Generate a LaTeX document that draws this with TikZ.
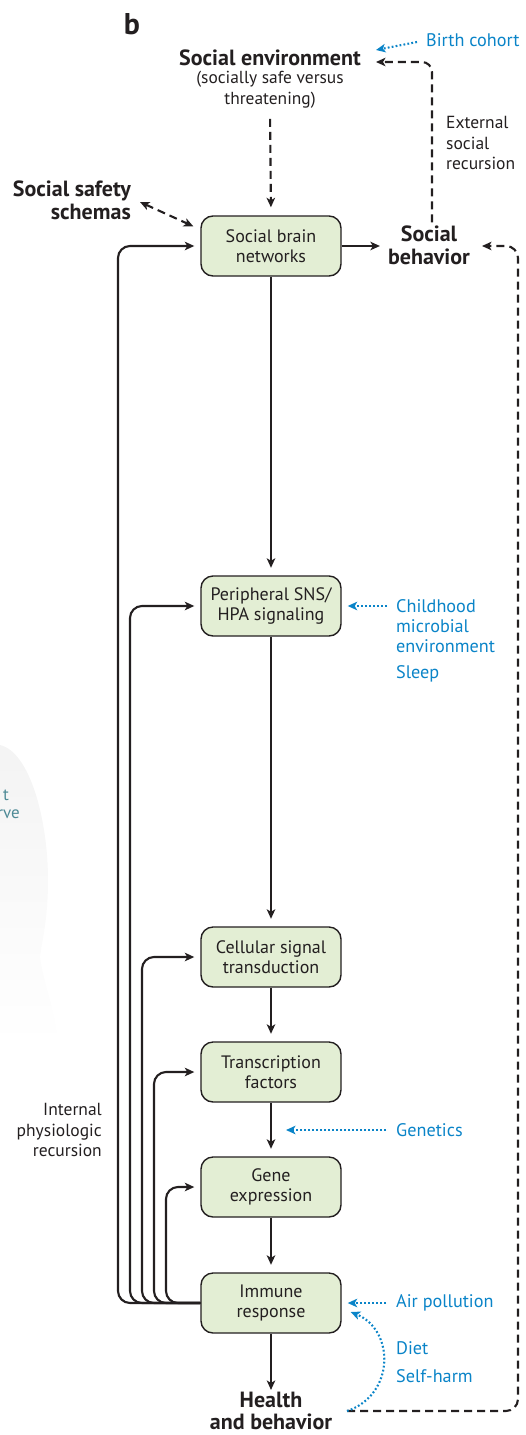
\documentclass[tikz,border=0pt]{standalone}
\usepackage{fontspec}
\setmainfont{PT Sans}
\usetikzlibrary{arrows.meta,calc}
\definecolor{boxfill}{HTML}{E3EED4}
\definecolor{ink}{HTML}{231F20}
\definecolor{blu}{HTML}{0A84C8}
\definecolor{tealtxt}{HTML}{4E8A96}
\begin{document}
\begin{tikzpicture}[x=1pt,y=-1pt,
  box/.style={draw=ink, line width=1.4pt, fill=boxfill, rounded corners=12pt,
    minimum width=140pt, minimum height=60pt, align=center, text=ink, inner sep=0pt,
    font=\fontsize{18}{20.5}\selectfont},
  lbl/.style={text=ink, inner sep=0pt, font=\fontsize{17.5}{20.5}\selectfont},
  boldlbl/.style={text=ink, inner sep=0pt, align=center, font=\fontsize{22}{23}\selectfont\bfseries},
  bluelbl/.style={text=blu, inner sep=0pt, anchor=west, align=left, font=\fontsize{18.2}{20}\selectfont},
  arr/.style={draw=ink, line width=2.1pt, -{Stealth[length=9.5pt,width=8.5pt,inset=2.5pt]}},
  darr/.style={arr, dash pattern=on 8pt off 5pt},
  barr/.style={draw=blu, line width=2.1pt, dash pattern=on 1.8pt off 2.2pt,
    -{Stealth[length=9.5pt,width=8.5pt,inset=2.5pt]}},
]
\useasboundingbox (0,0) rectangle (526,1435);

% faded fragment of neighbouring panel
\shade[top color=gray!9, bottom color=white, draw=none]
  (0,745) .. controls (30,752) and (48,820) .. (48,880)
  .. controls (48,920) and (42,940) .. (40,957)
  .. controls (45,990) and (56,1010) .. (58,1045) -- (0,1045) -- cycle;
\node[anchor=east, text=tealtxt, inner sep=0pt, font=\fontsize{17}{20}\selectfont] (frag1) at (9,795) {t};
\node[anchor=east, text=tealtxt, inner sep=0pt, font=\fontsize{17}{20}\selectfont] (frag2) at (20,814) {rve};

% panel letter
\node[text=ink, inner sep=0pt, font=\fontsize{30}{30}\selectfont\bfseries] (b) at (132,24) {b};

% boxes
\node[box] (sbn) at (271,246) {Social brain\\networks};
\node[box] (pns) at (271,606) {Peripheral SNS/\\HPA signaling};
\node[box] (cst) at (271,957) {Cellular signal\\transduction};
\node[box] (tf)  at (271,1072) {Transcription\\factors};
\node[box] (ge)  at (271,1187) {Gene\\expression};
\node[box] (ir)  at (271,1303) {Immune\\response};

% bold labels
\node[boldlbl] (se) at (270,58) {Social environment};
\node[lbl, align=center, font=\fontsize{17.4}{21}\selectfont] (ses) at (270,90) {(socially safe versus\\threatening)};
\node[boldlbl, anchor=east, align=right] (sss) at (131,200) {Social safety\\schemas};
\node[boldlbl] (sb) at (429,245) {Social\\behavior};
\node[boldlbl, font=\fontsize{22}{22}\selectfont\bfseries] (hb) at (271,1411) {Health\\and behavior};

% plain labels
\node[lbl, anchor=west, align=left] (ext) at (446,143) {External\\social\\recursion};
\node[lbl, anchor=east, align=right] (int) at (102,1130) {Internal\\physiologic\\recursion};

% blue labels
\node[bluelbl] (bc) at (426,40) {Birth cohort};
\node[bluelbl] (cme) at (396,626) {Childhood\\microbial\\environment};
\node[bluelbl] (slp) at (396,674) {Sleep};
\node[bluelbl] (gen) at (396,1130) {Genetics};
\node[bluelbl] (air) at (396,1303) {Air pollution};
\node[bluelbl] (diet) at (396,1348) {Diet};
\node[bluelbl] (sh) at (396,1376) {Self-harm};

% free-end coordinates
\coordinate (seIn) at (376,62);
\coordinate (seBC) at (376,50);
\coordinate (sbIn) at (482,246);
\coordinate (hbR) at (347,1411);
\coordinate (rt) at (518,1411);
\coordinate (genTip) at (286,1130);

% main chain
\draw[arr, shorten >=7.5pt] (sbn.south) -- (pns.north);
\draw[arr, shorten >=7.5pt] (pns.south) -- (cst.north);
\draw[arr, shorten >=7.5pt] (cst.south) -- (tf.north);
\draw[arr, shorten >=7.5pt] (tf.south) -- (ge.north);
\draw[arr, shorten >=7.5pt] (ge.south) -- (ir.north);
\draw[arr] (ir.south) -- ($(hb.north)+(0,-2)$);

% social arrows
\draw[arr] (sbn.east) -- ($(sb.west)+(-8,1)$);
\draw[darr, shorten <=10pt, shorten >=8pt] (ses.south) -- (sbn.north);
\draw[darr, {Stealth[length=9.5pt,width=8.5pt,inset=2.5pt]}-{Stealth[length=9.5pt,width=8.5pt,inset=2.5pt]}]
  ($(sss.east)+(9,2)$) -- ($(sbn.north west)+(-7,11)$);
\draw[darr, rounded corners=10pt] ($(sb.north)+(3,-3)$) |- (seIn);
\draw[darr, rounded corners=12pt] (hbR) -- (rt) |- (sbIn);

% internal recursion
\draw[arr, rounded corners=12pt] (ir.west) -- (118,1303) |- ($(sbn.west)+(-6,0)$);
\draw[arr, rounded corners=12pt] (ir.west) -- (130,1303) |- ($(pns.west)+(-6,0)$);
\draw[arr, rounded corners=12pt] (ir.west) -- (142,1303) |- ($(cst.west)+(-6,0)$);
\draw[arr, rounded corners=12pt] (ir.west) -- (154,1303) |- ($(tf.west)+(-6,0)$);
\draw[arr, rounded corners=12pt] (ir.west) -- (166,1303) |- ($(ge.west)+(-6,0)$);

% blue influences
\draw[barr] ($(bc.west)+(-9,2)$) -- (seBC);
\draw[barr, shorten <=9pt] (cme.west |- pns.east) -- ($(pns.east)+(6,0)$);
\draw[barr, shorten <=10pt] (gen.west) -- (genTip);
\draw[barr, shorten <=10pt] (air.west) -- ($(ir.east)+(6,0)$);
\draw[barr] (hbR) .. controls (395,1395) and (395,1330) .. ($(ir.east)+(9,9)$);
\end{tikzpicture}
\end{document}
